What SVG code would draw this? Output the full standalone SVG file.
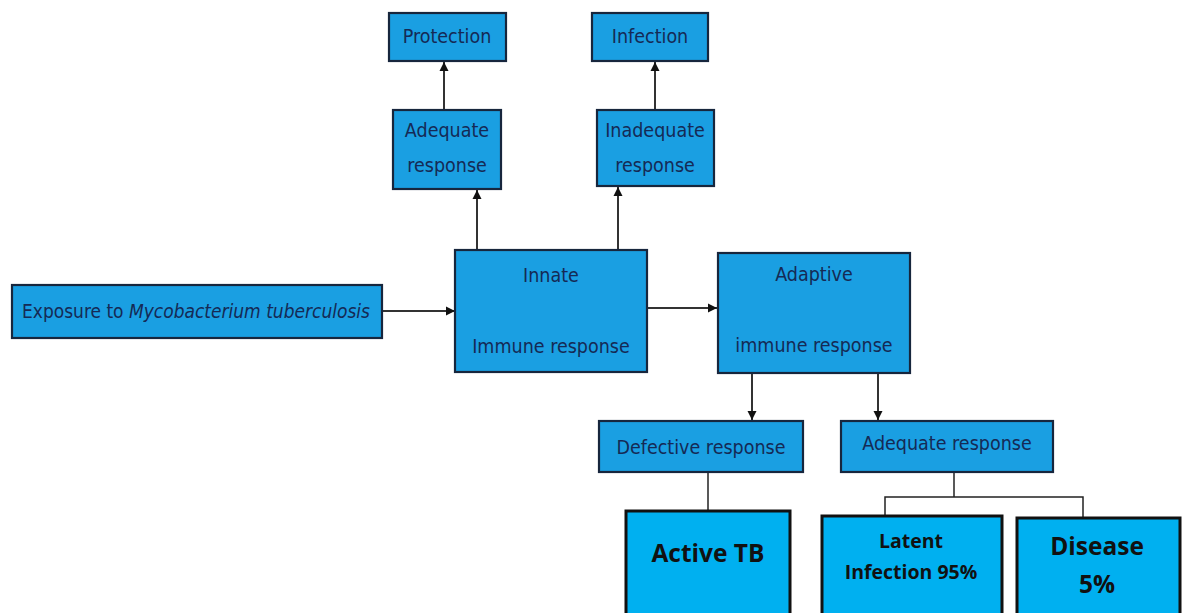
<svg xmlns="http://www.w3.org/2000/svg" width="1183" height="613" viewBox="0 0 1183 613">
<defs>
<marker id="ah" viewBox="0 0 10 10" refX="10" refY="5" markerWidth="9" markerHeight="10" markerUnits="userSpaceOnUse" orient="auto">
<path d="M0,0 L10,5 L0,10 z" fill="#111"/>
</marker>
<style>
.tb{fill:#1a9fe2;stroke:#17263d;stroke-width:2.2}
.bb{fill:#00b0f0;stroke:#111;stroke-width:3}
.tt{font-family:"DejaVu Sans Condensed","Liberation Sans",sans-serif;font-size:19.5px;fill:#152a55;text-anchor:middle}
.bt{font-family:"Open Sans","Liberation Sans",sans-serif;font-weight:bold;fill:#111;text-anchor:middle}
.ln{stroke:#333;stroke-width:2;fill:none}
.ln2{stroke:#222;stroke-width:1.5;fill:none}
</style>
</defs>
<rect width="1183" height="613" fill="#fff"/>
<g id="connectors">
<line class="ln" x1="444" y1="110" x2="444" y2="62" marker-end="url(#ah)"/>
<line class="ln" x1="655" y1="110" x2="655" y2="62" marker-end="url(#ah)"/>
<line class="ln" x1="477" y1="250" x2="477" y2="190" marker-end="url(#ah)"/>
<line class="ln" x1="618" y1="250" x2="618" y2="187" marker-end="url(#ah)"/>
<line class="ln" x1="382" y1="311" x2="455" y2="311" marker-end="url(#ah)"/>
<line class="ln" x1="647" y1="308" x2="717" y2="308" marker-end="url(#ah)"/>
<line class="ln" x1="752" y1="373" x2="752" y2="420" marker-end="url(#ah)"/>
<line class="ln" x1="878" y1="373" x2="878" y2="420" marker-end="url(#ah)"/>
<line class="ln2" x1="708" y1="472" x2="708" y2="511"/>
<line class="ln2" x1="954" y1="472" x2="954" y2="497"/>
<polyline class="ln2" points="885,518 885,497 1083,497 1083,520"/>
</g>
<g id="protection"><rect class="tb" x="389" y="13" width="117" height="48"/><text class="tt" x="447" y="43">Protection</text></g>
<g id="infection"><rect class="tb" x="592" y="13" width="116" height="48"/><text class="tt" x="650" y="43">Infection</text></g>
<g id="adequate-top"><rect class="tb" x="393" y="110" width="108" height="79"/><text class="tt" x="447" y="137">Adequate</text><text class="tt" x="447" y="172">response</text></g>
<g id="inadequate"><rect class="tb" x="597" y="110" width="117" height="76"/><text class="tt" x="655" y="137">Inadequate</text><text class="tt" x="655" y="172">response</text></g>
<g id="exposure"><rect class="tb" x="12" y="285" width="370" height="53"/><text class="tt" x="196" y="318" textLength="348" lengthAdjust="spacingAndGlyphs">Exposure to <tspan font-style="italic">Mycobacterium tuberculosis</tspan></text></g>
<g id="innate"><rect class="tb" x="455" y="250" width="192" height="122"/><text class="tt" x="551" y="282">Innate</text><text class="tt" x="551" y="353">Immune response</text></g>
<g id="adaptive"><rect class="tb" x="718" y="253" width="192" height="120"/><text class="tt" x="814" y="281">Adaptive</text><text class="tt" x="814" y="352">immune response</text></g>
<g id="defective"><rect class="tb" x="599" y="421" width="204" height="51"/><text class="tt" x="701" y="454">Defective response</text></g>
<g id="adequate-bottom"><rect class="tb" x="841" y="421" width="212" height="51"/><text class="tt" x="947" y="450">Adequate response</text></g>
<g id="active-tb"><rect class="bb" x="626" y="511" width="164" height="110"/><text class="bt" x="708" y="562" font-size="24.5">Active TB</text></g>
<g id="latent"><rect class="bb" x="822" y="516" width="180" height="105"/><text class="bt" x="911" y="548" font-size="19.5">Latent</text><text class="bt" x="911" y="579" font-size="19.5">Infection 95%</text></g>
<g id="disease"><rect class="bb" x="1017" y="518" width="163" height="103"/><text class="bt" x="1097" y="555" font-size="24.5">Disease</text><text class="bt" x="1097" y="593" font-size="24.5">5%</text></g>
</svg>
